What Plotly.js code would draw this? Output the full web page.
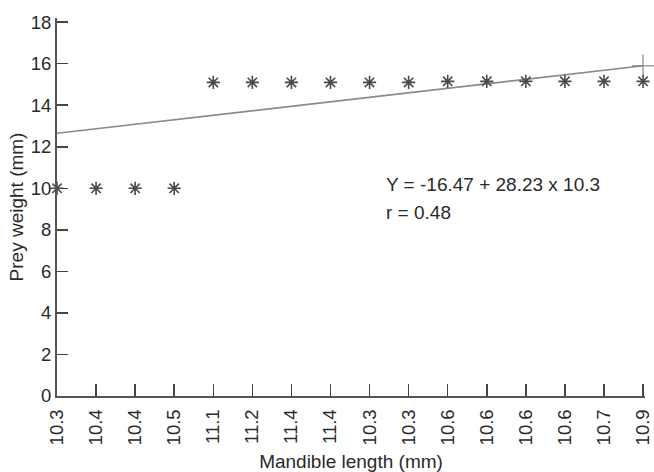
<!DOCTYPE html>
<html>
<head>
<meta charset="utf-8">
<script src="https://cdn.plot.ly/plotly-3.0.1.min.js"></script>
<style>html,body{margin:0;padding:0;background:#fff;}#chart{width:654px;height:472px;}</style>
</head>
<body>
<div id="chart"></div>
<script>
// Data
const xLabels = ['10.3','10.4','10.4','10.5','11.1','11.2','11.4','11.4','10.3','10.3','10.6','10.6','10.6','10.6','10.7','10.9'];
const preyWeight = [10, 10, 10, 10, 15.1, 15.1, 15.1, 15.1, 15.1, 15.1, 15.15, 15.15, 15.15, 15.15, 15.15, 15.15];
const fitX = [0, 15];
const fitY = [12.65, 15.9];
const eqText = 'Y = -16.47 + 28.23 x 10.3';
const rText = 'r = 0.48';
const eqPos = {x: 8.38, y1: 10.17, y2: 8.82};

const idx = xLabels.map((_, i) => i);
const font = 'Liberation Sans, Arial, Helvetica, sans-serif';
const txt = '#2a2a2a';

const traces = [
  {
    x: fitX, y: fitY, type: 'scatter', mode: 'lines+markers',
    line: {color: '#8a8a8a', width: 1.6},
    marker: {symbol: 'cross-thin-open', size: [0, 16], color: '#777', line: {color: '#777', width: 1.5}},
    hoverinfo: 'skip', cliponaxis: false
  },
  {
    x: idx, y: preyWeight, type: 'scatter', mode: 'markers',
    marker: {symbol: 'asterisk-open', size: 11, color: '#4a4a4a', line: {color: '#4a4a4a', width: 1.6}},
    cliponaxis: false
  }
];

const layout = {
  width: 654, height: 472,
  margin: {l: 57, r: 9, t: 18, b: 76},
  paper_bgcolor: '#fff', plot_bgcolor: '#fff',
  showlegend: false,
  font: {family: font, size: 18.5, color: txt},
  xaxis: {
    range: [0, 15.05], tickmode: 'array', tickvals: idx, ticktext: xLabels,
    tickangle: -90, ticks: 'inside', ticklen: 12, tickwidth: 1.5, tickcolor: '#444',
    ticklabelstandoff: 4,
    showline: true, linecolor: '#555', linewidth: 2, showgrid: false, zeroline: false,
    tickfont: {family: font, size: 18.5, color: txt},
    title: {text: 'Mandible length (mm)', font: {family: font, size: 19, color: txt}, standoff: 14}
  },
  yaxis: {
    range: [0, 18.2], tickmode: 'array', tickvals: [0,2,4,6,8,10,12,14,16,18],
    ticks: 'inside', ticklen: 11, tickwidth: 1.5, tickcolor: '#444',
    showline: true, linecolor: '#555', linewidth: 2, showgrid: false, zeroline: false,
    tickfont: {family: font, size: 18.5, color: txt},
    title: {text: 'Prey weight (mm)', font: {family: font, size: 19, color: txt}, standoff: 2}
  },
  annotations: [
    {x: eqPos.x, y: eqPos.y1, xref: 'x', yref: 'y', text: eqText, showarrow: false, xanchor: 'left', yanchor: 'middle', font: {family: font, size: 19, color: txt}},
    {x: eqPos.x, y: eqPos.y2, xref: 'x', yref: 'y', text: rText, showarrow: false, xanchor: 'left', yanchor: 'middle', font: {family: font, size: 19, color: txt}}
  ]
};

Plotly.newPlot('chart', traces, layout, {displayModeBar: false, staticPlot: true});
</script>
</body>
</html>
